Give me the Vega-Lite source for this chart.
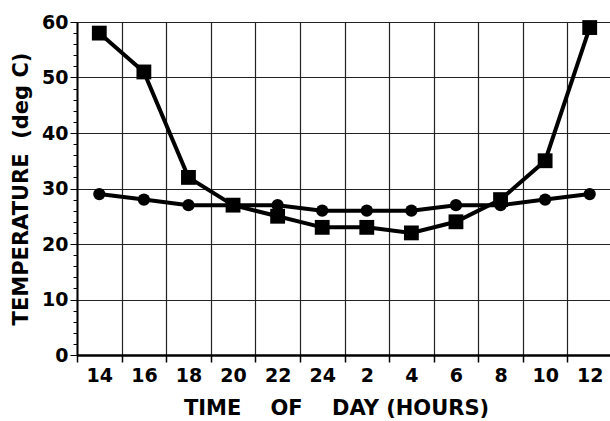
{
  "$schema": "https://vega.github.io/schema/vega-lite/v6.json",
  "autosize": "none",
  "width": 535,
  "height": 333,
  "padding": {"left": 77, "top": 22, "right": 0, "bottom": 66},
  "background": "white",
  "config": {"view": {"stroke": null}, "font": "DejaVu Sans"},
  "data": {"values": [
    {"t": "14", "s": "square", "v": 58}, {"t": "16", "s": "square", "v": 51}, {"t": "18", "s": "square", "v": 32},
    {"t": "20", "s": "square", "v": 27}, {"t": "22", "s": "square", "v": 25}, {"t": "24", "s": "square", "v": 23},
    {"t": "2", "s": "square", "v": 23}, {"t": "4", "s": "square", "v": 22}, {"t": "6", "s": "square", "v": 24},
    {"t": "8", "s": "square", "v": 28}, {"t": "10", "s": "square", "v": 35}, {"t": "12", "s": "square", "v": 59},
    {"t": "14", "s": "circle", "v": 29}, {"t": "16", "s": "circle", "v": 28}, {"t": "18", "s": "circle", "v": 27},
    {"t": "20", "s": "circle", "v": 27}, {"t": "22", "s": "circle", "v": 27}, {"t": "24", "s": "circle", "v": 26},
    {"t": "2", "s": "circle", "v": 26}, {"t": "4", "s": "circle", "v": 26}, {"t": "6", "s": "circle", "v": 27},
    {"t": "8", "s": "circle", "v": 27}, {"t": "10", "s": "circle", "v": 28}, {"t": "12", "s": "circle", "v": 29}
  ]},
  "encoding": {
    "x": {"field": "t", "type": "ordinal",
      "sort": ["14","16","18","20","22","24","2","4","6","8","10","12"],
      "scale": {"type": "band", "paddingInner": 0, "paddingOuter": 0},
      "axis": {"title": "TIME\u00a0\u00a0\u00a0\u00a0OF\u00a0\u00a0\u00a0\u00a0DAY\u00a0(HOURS)", "labelAngle": 0, "tickBand": "extent",
        "grid": true, "gridColor": "#222", "gridWidth": 1.2,
        "domainColor": "black", "domainWidth": 2.5, "tickColor": "black", "tickWidth": 1.5, "tickSize": 7,
        "labelFont": "DejaVu Sans", "labelFontWeight": "bold", "labelFontSize": 19, "labelColor": "black", "labelPadding": 4,
        "titleFont": "DejaVu Sans", "titleFontWeight": "bold", "titleFontSize": 21, "titleColor": "black", "titlePadding": 12,
        "titleX": 259}},
    "y": {"field": "v", "type": "quantitative",
      "scale": {"domain": [0, 60], "nice": false},
      "axis": {"title": "TEMPERATURE\u00a0\u00a0(deg C)",
        "values": [0,2,4,6,8,10,12,14,16,18,20,22,24,26,28,30,32,34,36,38,40,42,44,46,48,50,52,54,56,58,60],
        "labelExpr": "datum.value % 10 === 0 ? datum.label : ''",
        "grid": true, "gridColor": "#222", "gridWidth": 1.2,
        "gridOpacity": {"condition": {"test": "datum.value % 10 === 0", "value": 1}, "value": 0},
        "tickSize": {"condition": {"test": "datum.value % 10 === 0", "value": 7}, "value": 4},
        "domainColor": "black", "domainWidth": 2, "tickColor": "black", "tickWidth": 1,
        "labelFont": "DejaVu Sans", "labelFontWeight": "bold", "labelFontSize": 19, "labelColor": "black", "labelPadding": 2,
        "titleFont": "DejaVu Sans", "titleFontWeight": "bold", "titleFontSize": 21, "titleColor": "black", "titlePadding": 10}}
  },
  "layer": [
    {"mark": {"type": "line", "color": "black", "strokeWidth": 4},
     "encoding": {"detail": {"field": "s"}}},
    {"mark": {"type": "point", "filled": true, "color": "black", "opacity": 1},
     "encoding": {
       "shape": {"field": "s", "type": "nominal", "scale": {"domain": ["square", "circle"], "range": ["square", "circle"]}, "legend": null},
       "size": {"field": "s", "type": "nominal", "scale": {"domain": ["square", "circle"], "range": [220, 150]}, "legend": null}}}
  ]
}
